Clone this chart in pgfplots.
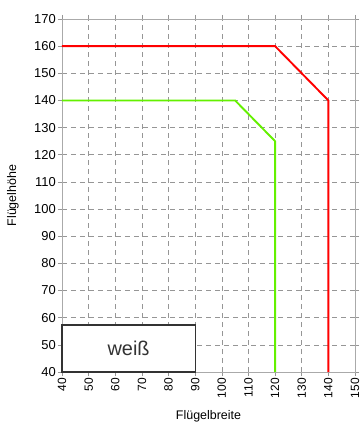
\documentclass[border=0pt]{standalone}
\usepackage{fontspec}
\setmainfont{Liberation Sans}
\usepackage{pgfplots}
\pgfplotsset{compat=1.18}

\definecolor{gridgray}{RGB}{150,150,150}
\definecolor{axgray}{RGB}{170,170,170}
\definecolor{lred}{RGB}{255,0,0}
\definecolor{lgreen}{RGB}{100,240,0}

\begin{document}
\begin{tikzpicture}
\begin{axis}[
  scale only axis,
  width=293bp, height=353bp,
  xmin=40, xmax=150, ymin=40, ymax=170,
  xtick={40,50,...,150}, ytick={40,50,...,170},
  grid=major,
  major grid style={gridgray, dash pattern=on 5bp off 4bp, line width=0.6pt},
  axis line style={axgray, line width=0.8pt},
  tick style={gridgray, line width=0.6pt},
  tick align=outside,
  major tick length=4bp,
  xticklabel style={rotate=90, anchor=east, font=\fontsize{12}{14}\selectfont, inner sep=2bp},
  yticklabel style={font=\fontsize{13}{15}\selectfont, inner sep=2bp},
  /pgf/number format/assume math mode=true,
  xlabel={Flügelbreite}, ylabel={Flügelhöhe},
  label style={font=\fontsize{12.5}{14}\selectfont},
  xlabel style={yshift=-7bp},
  ylabel style={yshift=10bp},
  clip=false,
]
\addplot[lred, line width=1.9pt] coordinates {(40,160) (120,160) (140,140) (140,40)};
\addplot[lgreen, line width=1.9pt] coordinates {(40,140) (105,140) (120,125) (120,40)};
\draw[black!80, line width=1.1pt, fill=white] (axis cs:40,40) rectangle (axis cs:90,57.3)
  node[midway, font=\fontsize{20}{22}\selectfont] {weiß};
\end{axis}
\pgfresetboundingbox
\path ([xshift=-62bp,yshift=-53bp]current axis.south west) rectangle ([xshift=6bp,yshift=19bp]current axis.north east);
\end{tikzpicture}
\end{document}
